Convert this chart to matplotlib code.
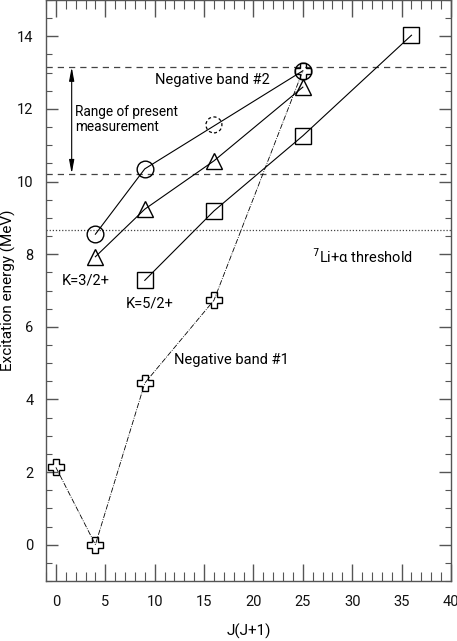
import matplotlib
matplotlib.use("Agg")
import matplotlib.pyplot as plt
from matplotlib.ticker import MultipleLocator

plt.rcParams['font.family'] = ['Roboto', 'DejaVu Sans']

# Data
circle_J = [4, 9, 25]
circle_E = [8.55, 10.35, 13.05]
tentative_J = [16]
tentative_E = [11.56]
tri_J = [4, 9, 16, 25]
tri_E = [7.93, 9.24, 10.57, 12.6]
sq_J = [9, 16, 25, 36]
sq_E = [7.28, 9.19, 11.26, 14.03]
cross_J = [0, 4, 9, 16, 25]
cross_E = [2.13, 0.0, 4.45, 6.73, 13.05]
range_hi = 13.15
range_lo = 10.22
threshold = 8.66

fig = plt.figure(figsize=(4.57, 6.41), dpi=100)
ax = fig.add_axes([46/457, 60/641, 405/457, 581/641])

lw = 0.8
ms = 12
ax.axhline(range_hi, color='#444444', lw=0.9, ls=(0, (5, 4)))
ax.axhline(range_lo, color='#444444', lw=0.9, ls=(0, (5, 4)))
ax.axhline(threshold, color='#444444', lw=0.9, ls=(0, (1, 1.5)))

ax.plot(cross_J, cross_E, color='k', lw=0.6, ls='-.', marker='P', ms=ms,
        mfc='none', mec='k', mew=1.0)
ax.plot(circle_J, circle_E, color='k', lw=lw, marker='o', ms=ms,
        mfc='none', mec='k', mew=1.0)
ax.plot(tri_J, tri_E, color='k', lw=lw, marker='^', ms=ms,
        mfc='none', mec='k', mew=1.0)
ax.plot(sq_J, sq_E, color='k', lw=lw, marker='s', ms=ms,
        mfc='none', mec='k', mew=1.0)
ax.scatter(tentative_J, tentative_E, s=(11.5)**2, facecolors='none',
           edgecolors='k', linewidths=0.9, linestyles=(0, (2.5, 2)))

ax.annotate('', xy=(1.6, range_lo), xytext=(1.6, range_hi),
            arrowprops=dict(arrowstyle='<|-|>,head_length=0.8,head_width=0.15',
                            color='k', lw=0.8, shrinkA=0, shrinkB=0))

fs = 10.5
ax.text(15.8, 12.8, 'Negative band #2', fontsize=fs, ha='center', va='center')
ax.text(1.95, 11.72, 'Range of present\nmeasurement', fontsize=9.8,
        ha='left', va='center', linespacing=1.1)
ax.text(0.6, 7.28, 'K=3/2+', fontsize=fs, ha='left', va='center')
ax.text(7.1, 6.65, 'K=5/2+', fontsize=fs, ha='left', va='center')
ax.text(25.9, 7.93, '$^{7}$Li+α threshold', fontsize=fs, ha='left', va='center')
ax.text(12.0, 5.08, 'Negative band #1', fontsize=fs, ha='left', va='center')

ax.set_xlim(-1, 40)
ax.set_ylim(-1, 15)
ax.xaxis.set_major_locator(MultipleLocator(5))
ax.xaxis.set_minor_locator(MultipleLocator(1))
ax.yaxis.set_major_locator(MultipleLocator(2))
ax.yaxis.set_minor_locator(MultipleLocator(0.5))
ax.set_yticks(range(0, 15, 2))

spc = '#555555'
for s in ax.spines.values():
    s.set_color(spc)
    s.set_linewidth(1.0)
ax.tick_params(axis='both', which='both', direction='in', color=spc,
               top=True, right=True, labelsize=fs, labelcolor='#111111')
ax.tick_params(axis='x', which='major', length=12, width=1.0, pad=10)
ax.tick_params(axis='x', which='minor', length=6.5, width=0.8)
ax.tick_params(axis='y', which='major', length=8.5, width=1.0, pad=9)
ax.tick_params(axis='y', which='minor', length=4.3, width=0.8)

ax.set_xlabel('J(J+1)', fontsize=fs + 0.5)
ax.set_ylabel('Excitation energy (MeV)', fontsize=fs + 0.5)
ax.yaxis.set_label_coords(-0.074, 0.5)
ax.xaxis.set_label_coords(0.5, -0.074)

fig.savefig('out.png', dpi=100)
